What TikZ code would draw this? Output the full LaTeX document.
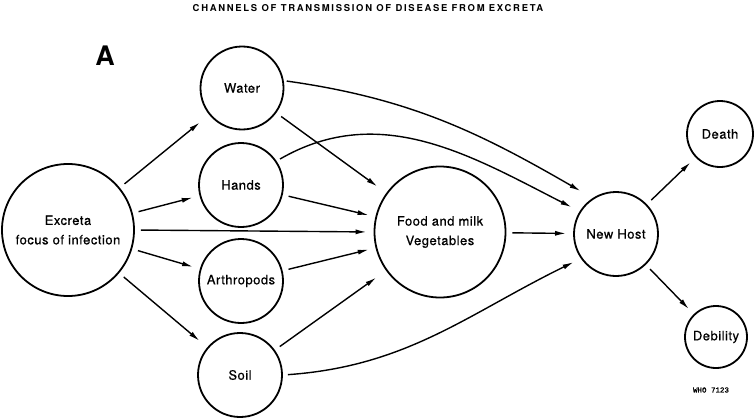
\documentclass[tikz,border=0pt]{standalone}
\usepackage{fontspec}
\setmainfont{TeX Gyre Heros}
\newfontfamily\nodefont[LetterSpace=4,FakeBold=0.6]{TeX Gyre Heros}
\newfontfamily\titlefont[LetterSpace=18]{TeX Gyre Heros}
\newfontfamily\whofont[FakeBold=1.5]{Liberation Mono}
\usetikzlibrary{arrows.meta}
\begin{document}
\begin{tikzpicture}[x=1bp,y=1bp,
  blob/.style={circle,draw,line width=1.8bp,inner sep=0pt,align=center,
    font=\nodefont\fontsize{13}{19.5}\selectfont},
  arr/.style={line width=1.4bp,-{Latex[length=11bp,width=5bp]},
    shorten <=6bp,shorten >=7bp}]
\useasboundingbox (0,0) rectangle (754,417);
\node (title) at (368,409) {\titlefont\bfseries\fontsize{9.5}{10}\selectfont CHANNELS OF TRANSMISSION OF DISEASE FROM EXCRETA};
\node (lbl) at (105,361) {\bfseries\fontsize{27}{27}\selectfont A};
\node (who) at (711,27) {\whofont\fontsize{7.5}{7.5}\selectfont WHO 7123};
\node[blob,minimum size=132bp] (excreta) at (68,187) {Excreta\\focus of infection};
\node[blob,minimum size=83bp] (water) at (242,329) {Water};
\node[blob,minimum size=84bp] (hands) at (241,232) {Hands};
\node[blob,minimum size=84bp] (arthro) at (241,136) {Arthropods};
\node[blob,minimum size=84bp] (soil) at (240,42) {Soil};
\node[blob,minimum size=131bp] (food) at (440,185) {Food and milk\\Vegetables};
\node[blob,minimum size=84bp] (host) at (616,183) {New Host};
\node[blob,minimum size=66bp] (death) at (720,283) {Death};
\node[blob,minimum size=62bp] (debility) at (716,80) {Debility};
\draw[arr,shorten >=12bp] (excreta) -- (water);
\draw[arr] (excreta) -- (hands);
\draw[arr] (excreta) -- (arthro);
\draw[arr,shorten >=10bp] (excreta) -- (soil);
\draw[arr] (excreta.0) -- (food.180);
\draw[arr,shorten >=11bp] (water) -- (food);
\draw[arr] (hands) -- (food);
\draw[arr] (arthro) -- (food);
\draw[arr,shorten >=12bp] (soil) -- (food);
\draw[arr] (food) -- (host);
\draw[arr] (host) -- (death);
\draw[arr] (host) -- (debility);
\draw[arr,shorten <=3bp,shorten >=14bp] (water.10) to[out=-8,in=150] (host.123);
\draw[arr,shorten <=4bp,shorten >=9bp] (hands.34) to[out=30,in=153] (host.148);
\draw[arr,shorten <=5bp,shorten >=8bp] (soil.0) to[out=4,in=206] (host.215);
\end{tikzpicture}
\end{document}
